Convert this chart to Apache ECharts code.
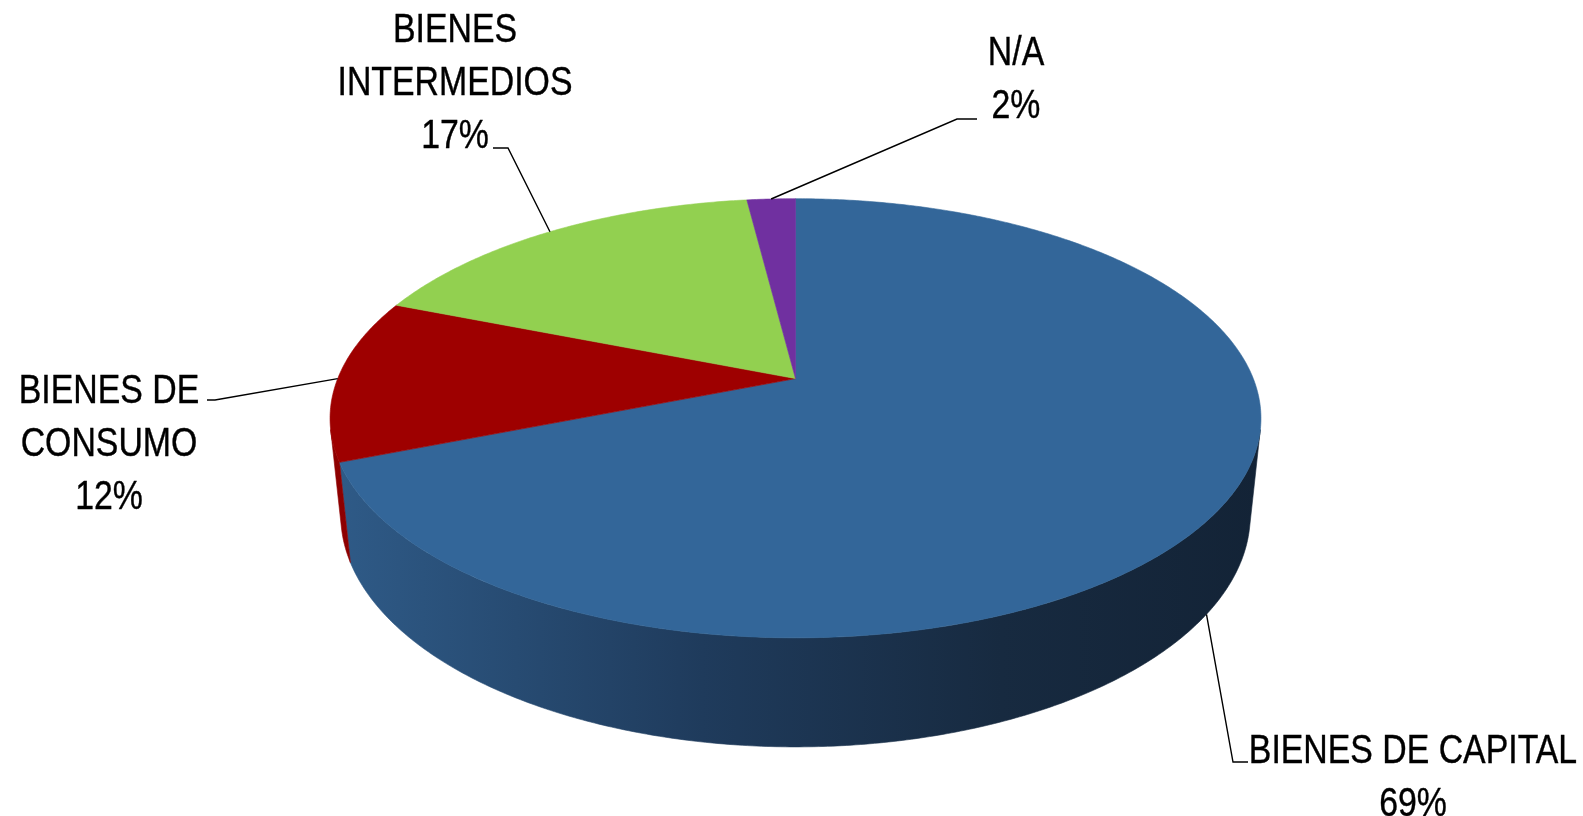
<!DOCTYPE html>
<html><head><meta charset="utf-8">
<script src="https://cdn.jsdelivr.net/npm/echarts@6/dist/echarts.min.js"></script>
<style>html,body{margin:0;padding:0;background:#fff}#chart{width:1583px;height:816px}</style>
</head><body><div id="chart"></div>
<script>
// ---- data ----
const categories = ['BIENES DE CAPITAL', 'BIENES DE CONSUMO', 'BIENES INTERMEDIOS', 'N/A'];
const labelText = ['BIENES DE CAPITAL', 'BIENES DE\nCONSUMO', 'BIENES\nINTERMEDIOS', 'N/A'];
const values = [69, 12, 17, 2];

// ---- styles ----
const topColors = ['#336699', '#9e0000', '#92d050', '#7030a0'];
const sideStops = [
  [[0, '#2f5b88'], [0.4, '#1f3b5c'], [0.72, '#172a40'], [1, '#132336']],
  [[0, '#8e0000'], [1, '#6a0000']],
  [[0, '#7fb846'], [1, '#6a9a3a']],
  [[0, '#5f2888'], [1, '#4e2070']]
];
// 3D view (perspective) parameters
const VIEW = {cx: 795.5, cy: 378.6, F: 2245, D: 4.904, s: 0.464, c: 0.886, h: 0.241};
// label layout
const labelLayout = [
  {level: 'bottom', elbow: [1233, 762], end: [1248, 762], pos: [1413, 778]},
  {level: 'top', elbow: [215, 400], end: [207, 400], pos: [109, 445]},
  {level: 'top', elbow: [508, 148], end: [493, 148], pos: [455, 84]},
  {level: 'top', elbow: [957, 119], end: [977, 119], pos: [1016, 80]}
];
const FONT = "'Liberation Sans', Arial, sans-serif";
const FONT_SCALE_X = 0.825;

function proj(phiDeg, r, y) {
  const a = phiDeg * Math.PI / 180;
  const x = r * Math.sin(a), z = r * Math.cos(a);
  const Y = z * VIEW.s + y * VIEW.c;
  const Z = VIEW.D + z * VIEW.c - y * VIEW.s;
  return [VIEW.cx + VIEW.F * x / Z, VIEW.cy - VIEW.F * Y / Z];
}
function arc(a0, a1, y) {
  const pts = [];
  const n = Math.max(2, Math.ceil(Math.abs(a1 - a0) / 0.5));
  for (let k = 0; k <= n; k++) pts.push(proj(a0 + (a1 - a0) * k / n, 1, y));
  return pts;
}
const total = values.reduce((a, b) => a + b, 0);
const cum = [0];
values.forEach(v => cum.push(cum[cum.length - 1] + v));
const visLim = Math.acos(-1 / (VIEW.D * VIEW.c)) * 180 / Math.PI;
const vis0 = visLim, vis1 = 360 - visLim;

const chart = echarts.init(document.getElementById('chart'), null, {renderer: 'canvas'});
chart.setOption({
  backgroundColor: '#ffffff',
  animation: false,
  series: [{
    type: 'custom',
    coordinateSystem: 'none',
    silent: true,
    data: values.map((v, i) => ({name: categories[i], value: v})),
    renderItem: function (params, api) {
      const i = params.dataIndex;
      const a0 = cum[i] / total * 360, a1 = cum[i + 1] / total * 360;
      const children = [];
      // side wall (front-facing part only)
      const lo = Math.max(a0, vis0), hi = Math.min(a1, vis1);
      if (hi > lo) {
        const pts = arc(lo, hi, 0).concat(arc(hi, lo, -VIEW.h));
        const grad = new echarts.graphic.LinearGradient(330, 0, 1262, 0,
          sideStops[i].map(s => ({offset: s[0], color: s[1]})), true);
        children.push({type: 'polygon', z2: 1, shape: {points: pts},
          style: {fill: grad, stroke: grad, lineWidth: 0.6}});
      }
      // top face
      const topPts = [proj(0, 0, 0)].concat(arc(a0, a1, 0));
      children.push({type: 'polygon', z2: 2, shape: {points: topPts},
        style: {fill: topColors[i], stroke: topColors[i], lineWidth: 0.6}});
      // leader line + label
      const L = labelLayout[i];
      const mid = (a0 + a1) / 2;
      const anchor = proj(mid, 1, L.level === 'bottom' ? -VIEW.h : 0);
      children.push({type: 'polyline', z2: 3, shape: {points: [anchor, L.elbow, L.end]},
        style: {stroke: '#000', lineWidth: 1.4, fill: null}});
      const pct = Math.round(values[i] / total * 100) + '%';
      children.push({type: 'text', z2: 4, x: L.pos[0], y: L.pos[1], scaleX: FONT_SCALE_X,
        style: {text: labelText[i] + '\n' + pct, fill: '#000', fontFamily: FONT, fontSize: 41,
          lineHeight: 53, align: 'center', verticalAlign: 'middle',
          stroke: '#000', lineWidth: 0.4}});
      return {type: 'group', children: children};
    }
  }]
});
</script>
</body></html>
